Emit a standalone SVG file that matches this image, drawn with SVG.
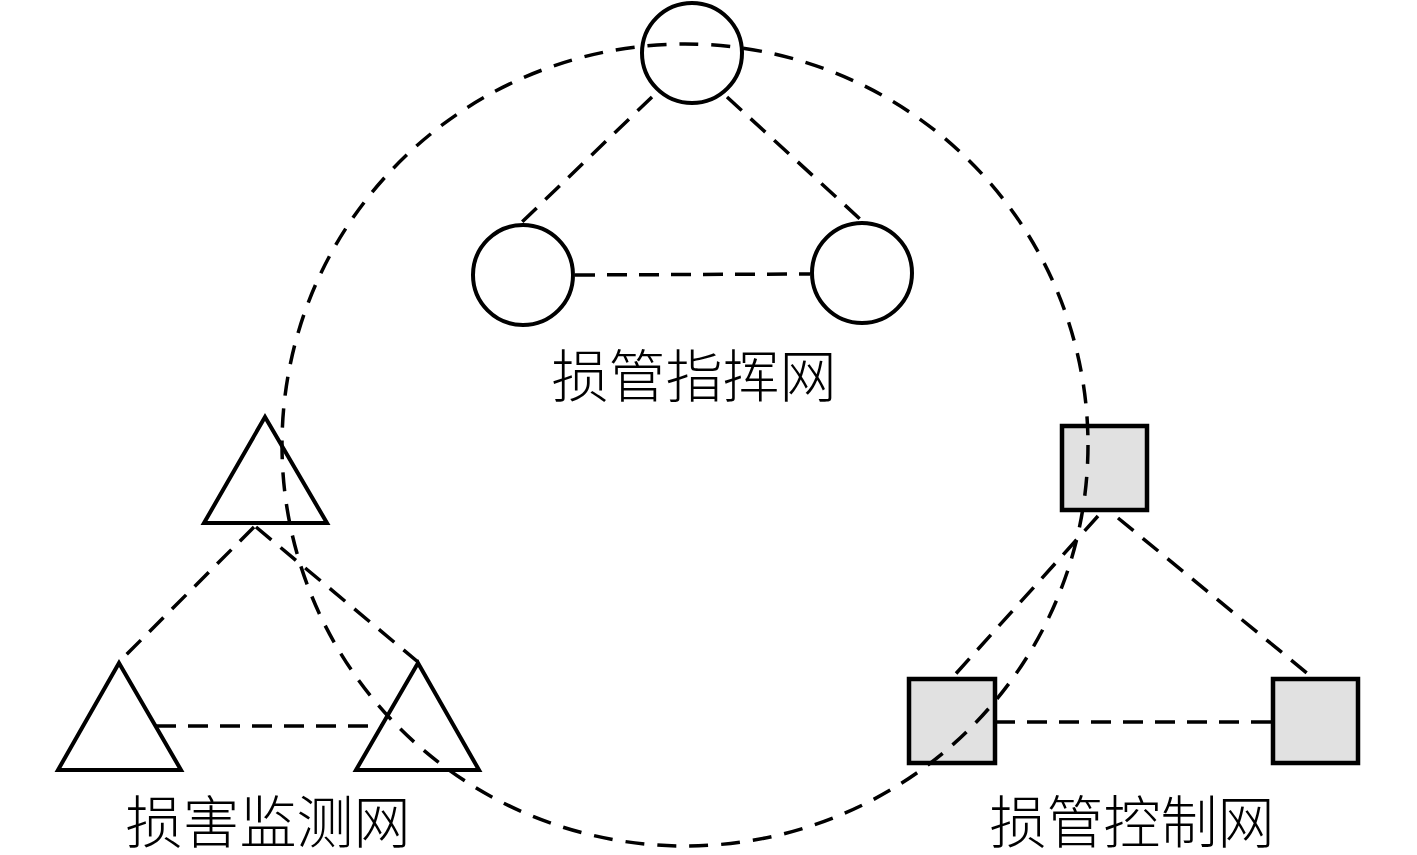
<svg xmlns="http://www.w3.org/2000/svg" width="1417" height="855" viewBox="0 0 1417 855">
<style>
.node{fill:#fff;stroke:#000;stroke-width:4;stroke-linejoin:miter}
.sq{fill:#e1e1e1;stroke:#000;stroke-width:4.5}
.dash{fill:none;stroke:#000;stroke-width:3.5;stroke-dasharray:20 12}
.lbl{font-family:"Noto Sans CJK SC","Noto Sans CJK TC",sans-serif;font-size:57px;font-weight:300;fill:#000;text-anchor:middle}
</style>
<rect width="1417" height="855" fill="#fff"/>
<g id="connectors">
<line class="dash" x1="652" y1="97" x2="522" y2="222"/>
<line class="dash" x1="727" y1="97" x2="860" y2="219"/>
<line class="dash" x1="575" y1="275" x2="810" y2="274"/>
<line class="dash" x1="254" y1="527" x2="119" y2="662"/>
<line class="dash" x1="256" y1="527" x2="418" y2="662"/>
<line class="dash" x1="156" y1="726" x2="381" y2="726"/>
<line class="dash" x1="1098" y1="516" x2="952" y2="678"/>
<line class="dash" x1="1118" y1="518" x2="1313" y2="678"/>
<line class="dash" x1="995" y1="722" x2="1273" y2="722"/>
</g>
<g id="command-net">
<circle class="node" cx="692" cy="53" r="50"/>
<circle class="node" cx="523" cy="275" r="50"/>
<circle class="node" cx="862" cy="273" r="50"/>
<text class="lbl" x="694" y="397">损管指挥网</text>
</g>
<g id="monitor-net">
<polygon class="node" points="265,417 204,523 327,523"/>
<polygon class="node" points="119,663 58,770 181,770"/>
<polygon class="node" points="418,663 356,770 479,770"/>
<text class="lbl" x="268" y="843">损害监测网</text>
</g>
<g id="control-net">
<rect class="sq" x="1062" y="426" width="85" height="84"/>
<rect class="sq" x="909" y="679" width="86" height="84"/>
<rect class="sq" x="1273" y="679" width="85" height="84"/>
<text class="lbl" x="1132" y="843">损管控制网</text>
</g>
<g id="loop">
<ellipse class="dash" cx="685" cy="445" rx="403" ry="401" style="stroke-dasharray:19 13"/>
</g>
</svg>
